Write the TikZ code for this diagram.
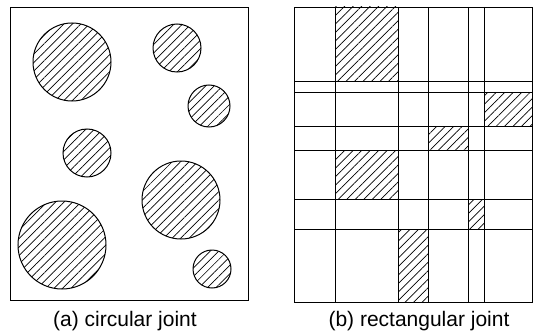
\documentclass[tikz,border=0pt]{standalone}
\usepackage{fontspec}
\setmainfont{Liberation Sans}
\usetikzlibrary{patterns.meta}

\begin{document}
\begin{tikzpicture}[
  x=1pt, y=-1pt, line width=1pt,
  hatch/.style={pattern={Lines[angle=45, distance=6pt, line width=0.7pt]}},
  frame/.style={line width=0.9pt},
  grid/.style={line width=0.8pt},
  caption/.style={font=\fontsize{21}{24}\selectfont, inner sep=0pt},
]
\useasboundingbox (0,0) rectangle (537,334);

% (a) circular joint
\draw[frame] (10,7) rectangle (248,300);
\foreach \cx/\cy/\r in {72/62/39, 177/48/24, 209/106/21, 87/153/24,
                        181/200/39, 62/245/44, 212/269/19}
  \draw[hatch] (\cx,\cy) circle (\r);
\node[caption] (capA) at (125,321) {(a) circular joint};

% (b) rectangular joint
% hatched blocks first, grid lines on top
\draw[hatch, draw=none] (335.3,7)     rectangle (398.7,81);
\draw[hatch, draw=none] (484.7,92.7)  rectangle (532,126.7);
\draw[hatch, draw=none] (428,126.7)   rectangle (468,150);
\draw[hatch, draw=none] (335.3,150)   rectangle (398.7,199);
\draw[hatch, draw=none] (468,199)     rectangle (484.7,229.3);
\draw[hatch, draw=none] (398.7,229.3) rectangle (428,302);

\foreach \gx in {335.3, 398.7, 428, 468, 484.7}
  \draw[grid] (\gx,7) -- (\gx,302);
\foreach \gy in {81, 92.7, 126.7, 150, 199, 229.3}
  \draw[grid] (294.7,\gy) -- (532,\gy);
\draw[frame] (294.7,7) rectangle (532,302);
\node[caption] (capB) at (419,321) {(b) rectangular joint};

\end{tikzpicture}
\end{document}
